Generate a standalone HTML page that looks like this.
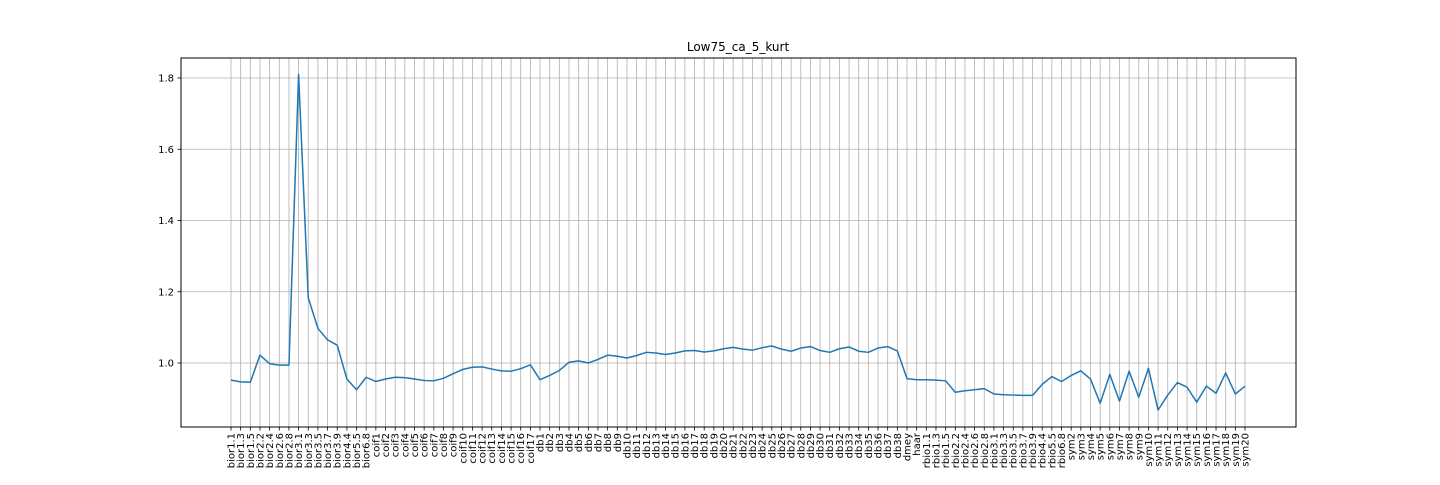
<!DOCTYPE html>
<html><head><meta charset="utf-8"><style>
html,body{margin:0;padding:0;background:#fff;}
svg text{font-family:"DejaVu Sans","Liberation Sans",sans-serif;fill:#000;}
</style></head><body>
<svg id="chart" width="1440" height="480" xmlns="http://www.w3.org/2000/svg">
<text x="738" y="51" font-size="12" text-anchor="middle">Low75_ca_5_kurt</text>
<g id="grid"></g>
<g id="axes"></g>
<polyline id="line" fill="none" stroke="#1f77b4" stroke-width="1.5" stroke-linejoin="round"></polyline>
<rect x="181" y="58" width="1115" height="369" fill="none" stroke="#000" stroke-width="1"></rect>
</svg>
<script>
const categories = ["bior1.1","bior1.3","bior1.5","bior2.2","bior2.4","bior2.6","bior2.8","bior3.1","bior3.3","bior3.5","bior3.7","bior3.9","bior4.4","bior5.5","bior6.8",
"coif1","coif2","coif3","coif4","coif5","coif6","coif7","coif8","coif9","coif10","coif11","coif12","coif13","coif14","coif15","coif16","coif17",
"db1","db2","db3","db4","db5","db6","db7","db8","db9","db10","db11","db12","db13","db14","db15","db16","db17","db18","db19","db20","db21","db22","db23","db24","db25","db26","db27","db28","db29","db30","db31","db32","db33","db34","db35","db36","db37","db38",
"dmey","haar","rbio1.1","rbio1.3","rbio1.5","rbio2.2","rbio2.4","rbio2.6","rbio2.8","rbio3.1","rbio3.3","rbio3.5","rbio3.7","rbio3.9","rbio4.4","rbio5.5","rbio6.8",
"sym2","sym3","sym4","sym5","sym6","sym7","sym8","sym9","sym10","sym11","sym12","sym13","sym14","sym15","sym16","sym17","sym18","sym19","sym20"];
const values = [0.952,0.947,0.946,1.022,0.998,0.994,0.994,1.81,1.183,1.097,1.065,1.05,0.955,0.925,0.96,
0.948,0.955,0.96,0.959,0.955,0.951,0.95,0.957,0.97,0.982,0.988,0.989,0.983,0.978,0.977,0.984,0.995,
0.953,0.965,0.979,1.002,1.006,1.0,1.01,1.022,1.019,1.014,1.021,1.03,1.028,1.024,1.028,1.034,1.035,1.031,1.034,1.04,1.044,1.039,1.036,1.043,1.048,1.039,1.033,1.042,1.046,1.035,1.03,1.04,1.045,1.033,1.03,1.042,1.046,1.034,
0.956,0.953,0.953,0.952,0.95,0.918,0.922,0.925,0.928,0.913,0.911,0.91,0.909,0.909,0.94,0.962,0.948,
0.965,0.978,0.955,0.887,0.968,0.893,0.977,0.904,0.985,0.868,0.91,0.945,0.932,0.89,0.935,0.915,0.972,0.913,0.935];
const yTicks = [1.0,1.2,1.4,1.6,1.8];
const yTickLabels = ["1.0","1.2","1.4","1.6","1.8"];

const X0=231, X1=1245, Ytop=58, Ybot=427;
const xScale = i => X0 + i*(X1-X0)/(categories.length-1);
const yScale = v => 363 - (v-1)*356.25;
const NS="http://www.w3.org/2000/svg";
const grid=document.getElementById('grid'), axes=document.getElementById('axes');
function mk(tag, attrs, parent){const e=document.createElementNS(NS,tag);for(const k in attrs)e.setAttribute(k,attrs[k]);parent.appendChild(e);return e;}
categories.forEach((c,i)=>{
  const x=xScale(i);
  const g=mk('line',{x1:x,x2:x,y1:Ytop,y2:Ybot,stroke:'#b0b0b0','stroke-width':0.8},grid);
  
  
  const t=mk('line',{x1:x,x2:x,y1:Ybot,y2:Ybot+3.5,stroke:'#000','stroke-width':0.8},axes);
  
  
  const l=mk('text',{x:0,y:0,'font-size':10,'text-anchor':'end',transform:`translate(${x+3.5},${Ybot+6}) rotate(-90)`},axes);
  l.textContent=c;
  
  
});
yTicks.forEach((v,i)=>{
  const y=yScale(v);
  const g=mk('line',{x1:181,x2:1296,y1:y,y2:y,stroke:'#b0b0b0','stroke-width':0.8},grid);
  
  
  const t=mk('line',{x1:177.5,x2:181,y1:y,y2:y,stroke:'#000','stroke-width':0.8},axes);
  
  
  const l=mk('text',{x:174,y:y+3.5,'font-size':10,'text-anchor':'end'},axes);
  l.textContent=yTickLabels[i];
  
  
});
document.getElementById('line').setAttribute('points',values.map((v,i)=>xScale(i)+','+yScale(v)).join(' '));
</script>
</body></html>
